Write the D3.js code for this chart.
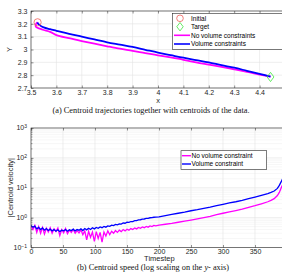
<!DOCTYPE html>
<html>
<head>
<meta charset="utf-8">
<script src="https://cdn.jsdelivr.net/npm/d3@7"></script>
<style>
  body { margin: 0; background: #fff; }
  svg { display: block; }
  .tick text, .axis-label, .legend text { font-family: 'Liberation Sans', Arial, sans-serif; fill: #262626; }
  .tick text { font-size: 7px; }
  .axis-label { font-size: 7.5px; }
  .legend text { font-size: 6.5px; fill: #000; }
  .caption { font-family: 'Liberation Serif', 'Times New Roman', serif; font-size: 8.3px; fill: #111; }
  .domain { display: none; }
  .tick line { stroke: #262626; stroke-width: 0.5; }
</style>
</head>
<body>
<svg id="chart" width="282" height="272"></svg>
<script>
// ---- (a) centroid trajectories ----
const volX = [3.526, 3.528, 3.535, 3.55, 3.575, 3.6, 3.65, 3.7, 3.75, 3.8, 3.85, 3.9, 3.95, 4.0, 4.05, 4.1, 4.15, 4.2, 4.25, 4.3, 4.35, 4.4, 4.443];
const volY = [3.212, 3.2, 3.188, 3.172, 3.158, 3.146, 3.122, 3.1, 3.078, 3.056, 3.038, 3.02, 2.998, 2.976, 2.956, 2.936, 2.918, 2.9, 2.878, 2.858, 2.834, 2.81, 2.788];
const noVolX = [3.526, 3.52, 3.518, 3.522, 3.535, 3.55, 3.575, 3.6, 3.65, 3.7, 3.75, 3.8, 3.85, 3.9, 3.95, 4.0, 4.05, 4.1, 4.15, 4.2, 4.25, 4.3, 4.35, 4.4, 4.443];
const noVolY = [3.212, 3.2, 3.185, 3.172, 3.162, 3.152, 3.138, 3.112, 3.088, 3.066, 3.045, 3.025, 3.006, 2.99, 2.972, 2.955, 2.938, 2.92, 2.9, 2.882, 2.864, 2.845, 2.826, 2.805, 2.788];
const initialPt = [3.526, 3.212];
const targetPt = [4.443, 2.786];
const trajXTicks = [3.5, 3.6, 3.7, 3.8, 3.9, 4.0, 4.1, 4.2, 4.3, 4.4];
const trajYTicks = [2.7, 2.8, 2.9, 3.0, 3.1, 3.2, 3.3];

// ---- (b) centroid speed ----
const timesteps = [0, 3, 6, 9, 12, 15, 18, 21, 24, 27, 30, 33, 36, 39, 42, 45, 48, 51, 54, 57, 60, 63, 66, 69, 72, 75, 78, 81, 84, 87, 90, 93, 96, 99,
  102, 105, 108, 111, 114, 117, 120, 123, 126, 129, 132, 135, 138, 141, 144, 147, 150, 153, 156, 159, 162, 165, 168, 171, 174, 177, 180, 183, 186, 189, 192, 195,
  200, 210, 220, 230, 240, 250, 260, 270, 280, 290, 300, 310, 320, 330, 340, 350, 360, 370, 375, 380, 385, 388, 391, 394];
const speedVol = [0.55, 0.48, 0.52, 0.42, 0.47, 0.40, 0.45, 0.38, 0.43, 0.37, 0.41, 0.36, 0.40, 0.35, 0.39, 0.34, 0.38, 0.36, 0.40, 0.35, 0.39, 0.37, 0.41, 0.36, 0.40, 0.38, 0.42, 0.37, 0.43, 0.39, 0.44, 0.40, 0.46, 0.42,
  0.47, 0.44, 0.49, 0.46, 0.51, 0.48, 0.53, 0.51, 0.56, 0.54, 0.59, 0.57, 0.62, 0.61, 0.66, 0.65, 0.70, 0.69, 0.74, 0.74, 0.79, 0.79, 0.84, 0.85, 0.89, 0.90, 0.94, 0.95, 0.99, 1.00, 1.03, 1.04,
  1.06, 1.17, 1.28, 1.40, 1.53, 1.70, 1.85, 2.05, 2.25, 2.5, 2.8, 3.1, 3.4, 3.8, 4.3, 4.9, 5.6, 6.4, 7.0, 7.8, 9.5, 12, 16, 22];
const speedNoVol = [0.52, 0.40, 0.55, 0.32, 0.50, 0.30, 0.47, 0.28, 0.44, 0.33, 0.46, 0.30, 0.42, 0.34, 0.45, 0.25, 0.40, 0.31, 0.43, 0.29, 0.38, 0.32, 0.40, 0.30, 0.37, 0.31, 0.39, 0.27, 0.36, 0.18, 0.35, 0.22, 0.33, 0.16,
  0.34, 0.20, 0.32, 0.15, 0.33, 0.24, 0.36, 0.27, 0.35, 0.30, 0.37, 0.32, 0.38, 0.34, 0.40, 0.36, 0.41, 0.38, 0.43, 0.40, 0.45, 0.42, 0.47, 0.44, 0.49, 0.46, 0.51, 0.48, 0.53, 0.50, 0.55, 0.53,
  0.56, 0.60, 0.64, 0.70, 0.76, 0.83, 0.91, 1.0, 1.1, 1.25, 1.4, 1.55, 1.72, 1.92, 2.2, 2.5, 2.9, 3.4, 3.8, 4.3, 5.5, 7, 10, 14];
const speedXTicks = [0, 50, 100, 150, 200, 250, 300, 350];
const speedYTicks = [0.1, 1, 10, 100, 1000];

const magenta = '#ff00ff';
const blue = '#0000ff';
const gridCol = '#e3e3e3';
const svg = d3.select('#chart');
const fmt = d => String(+d.toFixed(1));

// ---------- panel (a) ----------
{
  const margin = { left: 31, top: 11 };
  const w = 254, h = 77;
  const x = d3.scaleLinear().domain([3.5, 4.5]).range([0, w]);
  const y = d3.scaleLinear().domain([2.7, 3.3]).range([h, 0]);
  const g = svg.append('g').attr('transform', `translate(${margin.left},${margin.top})`);

  g.append('clipPath').attr('id', 'clipA').append('rect').attr('width', w).attr('height', h);

  // grid
  g.append('g').selectAll('line').data(trajXTicks).join('line')
    .attr('x1', d => x(d)).attr('x2', d => x(d)).attr('y1', 0).attr('y2', h)
    .attr('stroke', gridCol).attr('stroke-width', 0.6);
  g.append('g').selectAll('line').data(trajYTicks).join('line')
    .attr('x1', 0).attr('x2', w).attr('y1', d => y(d)).attr('y2', d => y(d))
    .attr('stroke', gridCol).attr('stroke-width', 0.6);

  const line = d3.line().x(d => x(d[0])).y(d => y(d[1])).curve(d3.curveCatmullRom);
  const plot = g.append('g').attr('clip-path', 'url(#clipA)');
  plot.append('path').datum(d3.zip(noVolX, noVolY)).attr('d', line)
    .attr('fill', 'none').attr('stroke', magenta).attr('stroke-width', 1.8);
  plot.append('path').datum(d3.zip(volX, volY)).attr('d', line)
    .attr('fill', 'none').attr('stroke', blue).attr('stroke-width', 1.8);

  plot.append('circle').attr('cx', x(initialPt[0])).attr('cy', y(initialPt[1])).attr('r', 3.6)
    .attr('fill', 'none').attr('stroke', '#f0605a').attr('stroke-width', 0.8);
  plot.append('path').attr('transform', `translate(${x(targetPt[0])},${y(targetPt[1])})`)
    .attr('d', 'M0,-4.6L3.4,0L0,4.6L-3.4,0Z')
    .attr('fill', 'none').attr('stroke', '#3ee63e').attr('stroke-width', 0.8);

  // axes (ticks inward, box)
  g.append('g').attr('transform', `translate(0,${h})`)
    .call(d3.axisBottom(x).tickValues(trajXTicks).tickFormat(fmt).tickSizeInner(-2.5).tickSizeOuter(0).tickPadding(2));
  g.append('g').call(d3.axisTop(x).tickValues(trajXTicks).tickFormat('').tickSizeInner(-2.5).tickSizeOuter(0));
  g.append('g')
    .call(d3.axisLeft(y).tickValues(trajYTicks).tickFormat(fmt).tickSizeInner(-2.5).tickSizeOuter(0).tickPadding(3.5));
  g.append('rect').attr('width', w).attr('height', h)
    .attr('fill', 'none').attr('stroke', '#262626').attr('stroke-width', 0.6);

  g.append('text').attr('class', 'axis-label').attr('x', w / 2).attr('y', h + 14.5)
    .attr('text-anchor', 'middle').text('x');
  g.append('text').attr('class', 'axis-label')
    .attr('transform', `translate(${-19},${h / 2}) rotate(-90)`)
    .attr('text-anchor', 'middle').text('Y');

  // legend
  const lg = svg.append('g').attr('class', 'legend').attr('transform', 'translate(172.5,13.3)');
  lg.append('rect').attr('width', 130).attr('height', 36)
    .attr('fill', '#fff').attr('stroke', '#262626').attr('stroke-width', 0.6);
  const rows = [5, 13.4, 22, 30.7];
  lg.append('circle').attr('cx', 7.5).attr('cy', rows[0]).attr('r', 3.3)
    .attr('fill', 'none').attr('stroke', '#f0605a').attr('stroke-width', 0.8);
  lg.append('path').attr('transform', `translate(7.5,${rows[1]})`).attr('d', 'M0,-4.2L3.2,0L0,4.2L-3.2,0Z')
    .attr('fill', 'none').attr('stroke', '#3ee63e').attr('stroke-width', 0.8);
  lg.append('line').attr('x1', 1.5).attr('x2', 17.5).attr('y1', rows[2]).attr('y2', rows[2])
    .attr('stroke', magenta).attr('stroke-width', 1.6);
  lg.append('line').attr('x1', 1.5).attr('x2', 17.5).attr('y1', rows[3]).attr('y2', rows[3])
    .attr('stroke', blue).attr('stroke-width', 1.6);
  ['Initial', 'Target', 'No volume constraints', 'Volume constraints'].forEach((t, i) =>
    lg.append('text').attr('x', 18.5).attr('y', rows[i]).attr('dy', '0.35em').text(t));

  svg.append('text').attr('class', 'caption').attr('x', 151).attr('y', 113)
    .attr('text-anchor', 'middle').text('(a) Centroid trajectories together with centroids of the data.');
}

// ---------- panel (b) ----------
{
  const margin = { left: 31, top: 128 };
  const w = 252.8, h = 119.5;
  const x = d3.scaleLinear().domain([0, 395]).range([0, w]);
  const y = d3.scaleLog().domain([0.1, 1000]).range([h, 0]);
  const g = svg.append('g').attr('transform', `translate(${margin.left},${margin.top})`);

  g.append('clipPath').attr('id', 'clipB').append('rect').attr('width', w).attr('height', h);

  // minor log positions
  const minor = [];
  speedYTicks.slice(0, -1).forEach(p => [2, 3, 4, 5, 6, 7, 8, 9].forEach(k => minor.push(p * k)));

  g.append('g').selectAll('line').data(minor).join('line')
    .attr('x1', 0).attr('x2', w).attr('y1', d => y(d)).attr('y2', d => y(d))
    .attr('stroke', '#efefef').attr('stroke-width', 0.5);
  g.append('g').selectAll('line').data(speedYTicks).join('line')
    .attr('x1', 0).attr('x2', w).attr('y1', d => y(d)).attr('y2', d => y(d))
    .attr('stroke', gridCol).attr('stroke-width', 0.6);
  g.append('g').selectAll('line').data(speedXTicks).join('line')
    .attr('x1', d => x(d)).attr('x2', d => x(d)).attr('y1', 0).attr('y2', h)
    .attr('stroke', gridCol).attr('stroke-width', 0.6);

  const line = d3.line().x(d => x(d[0])).y(d => y(d[1]));
  const plot = g.append('g').attr('clip-path', 'url(#clipB)');
  plot.append('path').datum(d3.zip(timesteps, speedNoVol)).attr('d', line)
    .attr('fill', 'none').attr('stroke', magenta).attr('stroke-width', 1.3);
  plot.append('path').datum(d3.zip(timesteps, speedVol)).attr('d', line)
    .attr('fill', 'none').attr('stroke', blue).attr('stroke-width', 1.3);

  g.append('g').attr('transform', `translate(0,${h})`)
    .call(d3.axisBottom(x).tickValues(speedXTicks).tickSizeInner(-2.5).tickSizeOuter(0).tickPadding(2));
  g.append('g').call(d3.axisTop(x).tickValues(speedXTicks).tickFormat('').tickSizeInner(-2.5).tickSizeOuter(0));
  g.append('g')
    .call(d3.axisLeft(y).tickValues(speedYTicks).tickFormat('').tickSizeInner(-2.5).tickSizeOuter(0));
  g.append('g').selectAll('line').data(minor).join('line')
    .attr('x1', 0).attr('x2', 1.5).attr('y1', d => y(d)).attr('y2', d => y(d))
    .attr('stroke', '#262626').attr('stroke-width', 0.4);

  // 10^n labels
  const labs = g.append('g').selectAll('text').data(speedYTicks).join('text')
    .attr('class', 'axis-label').style('font-size', '7px')
    .attr('x', -4).attr('y', d => y(d)).attr('dy', '0.35em').attr('text-anchor', 'end');
  labs.append('tspan').text('10');
  labs.append('tspan').attr('dy', '-0.45em').style('font-size', '5px')
    .text(d => String(Math.round(Math.log10(d))).replace('-', '\u2212'));

  g.append('rect').attr('width', w).attr('height', h)
    .attr('fill', 'none').attr('stroke', '#262626').attr('stroke-width', 0.6);

  g.append('text').attr('class', 'axis-label').attr('x', w / 2 + 2).attr('y', h + 13.5)
    .attr('text-anchor', 'middle').text('Timestep');
  g.append('text').attr('class', 'axis-label')
    .attr('transform', `translate(${-18.5},${h / 2}) rotate(-90)`)
    .attr('text-anchor', 'middle').text('|Centroid velocity|');

  // legend
  const lg = svg.append('g').attr('class', 'legend').attr('transform', 'translate(181,150.7)');
  lg.append('rect').attr('width', 85.7).attr('height', 18.6)
    .attr('fill', '#fff').attr('stroke', '#262626').attr('stroke-width', 0.6);
  const rows = [5, 13.3];
  lg.append('line').attr('x1', 1).attr('x2', 10).attr('y1', rows[0]).attr('y2', rows[0])
    .attr('stroke', magenta).attr('stroke-width', 1.4);
  lg.append('line').attr('x1', 1).attr('x2', 10).attr('y1', rows[1]).attr('y2', rows[1])
    .attr('stroke', blue).attr('stroke-width', 1.4);
  ['No volume constraint', 'Volume constraint'].forEach((t, i) =>
    lg.append('text').attr('x', 10.5).attr('y', rows[i]).attr('dy', '0.35em').text(t));

  const cap = svg.append('text').attr('class', 'caption').attr('x', 153).attr('y', 270)
    .attr('text-anchor', 'middle');
  cap.append('tspan').text('(b) Centroid speed (log scaling on the ');
  cap.append('tspan').style('font-style', 'italic').text('y');
  cap.append('tspan').text('- axis)');
}
</script>
</body>
</html>
